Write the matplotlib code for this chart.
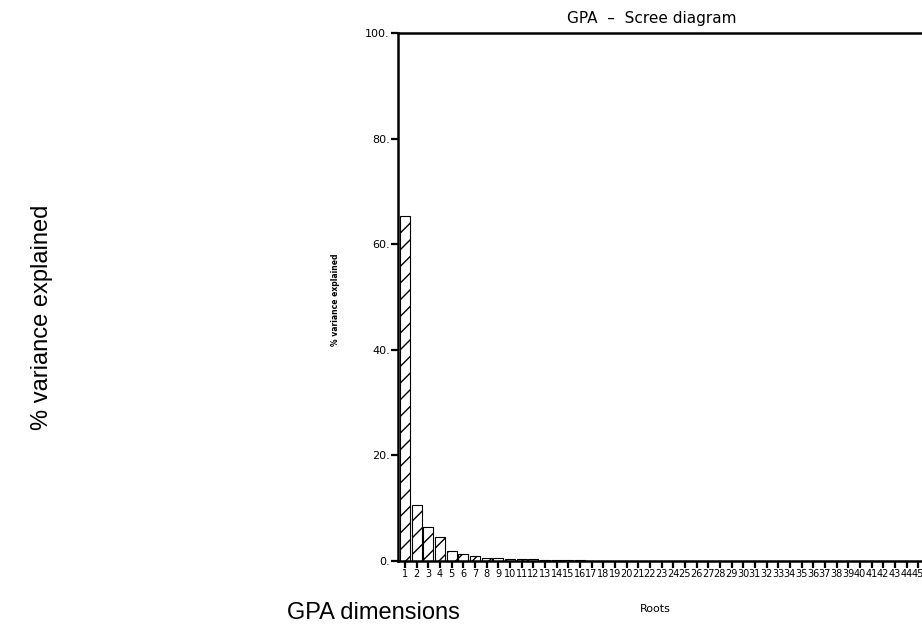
import matplotlib.pyplot as plt
import numpy as np

# percent of variance explained by each GPA root
roots = np.arange(1, 51)
variance = [65.3, 10.6, 6.4, 4.5, 1.9, 1.3, 0.9, 0.6, 0.55, 0.45,
            0.4, 0.3, 0.25, 0.2, 0.2, 0.15] + [0.0] * 34

narrow = ['DejaVu Sans Condensed', 'Liberation Sans Narrow', 'DejaVu Sans']

fig = plt.figure(figsize=(9.22, 6.32), dpi=100)

# inner scree plot (runs off the right edge)
ax = fig.add_axes([0.4317, 0.1123, 0.635, 0.8355])
plt.rcParams['hatch.linewidth'] = 1.0
ax.bar(roots, variance, width=0.85, color='white', edgecolor='black',
       linewidth=0.8, hatch='//')
ax.set_xlim(0.4, 50.6)
ax.set_ylim(0, 100)
ax.set_xticks(roots)
ax.set_xticklabels([str(r) for r in roots], fontsize=7, family=narrow)
ax.set_yticks([0, 20, 40, 60, 80, 100])
ax.set_yticklabels(['0.', '20.', '40.', '60.', '80.', '100.'], fontsize=8,
                   family=narrow)
ax.tick_params(axis='both', direction='out', length=5, width=1.6, pad=1)
for side in ['left', 'top', 'bottom']:
    ax.spines[side].set_linewidth(1.8)
ax.spines['right'].set_visible(False)

fig.text(652 / 922, 1 - 19 / 632, 'GPA  \u2013  Scree diagram', ha='center',
         va='center', fontsize=11, family=narrow)
fig.text(655 / 922, 1 - 609 / 632, 'Roots', ha='center', va='center',
         fontsize=8, family=narrow)
fig.text(335 / 922, 1 - 300 / 632, '% variance explained', ha='center',
         va='center', rotation=90, fontsize=5.5, fontweight='bold',
         family=narrow)

# outer labels
fig.text(42 / 922, 1 - 317 / 632, '% variance explained', ha='center',
         va='center', rotation=90, fontsize=17, family='Liberation Sans')
fig.text(373 / 922, 1 - 613 / 632, 'GPA dimensions', ha='center',
         va='center', fontsize=17, family='Liberation Sans')

fig.savefig('out.png', dpi=100)
